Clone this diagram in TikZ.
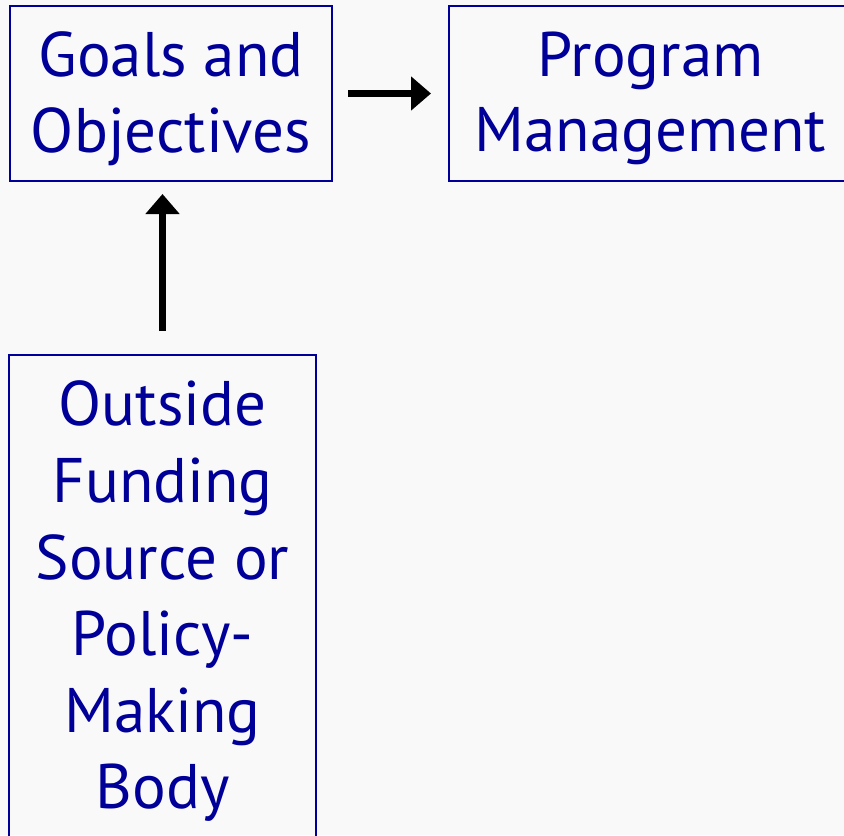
\documentclass[tikz,border=0pt]{standalone}
\usepackage{fontspec}
\setmainfont{PT Sans}
\usetikzlibrary{arrows.meta}
\definecolor{boxblue}{HTML}{000099}
\definecolor{paper}{HTML}{F9F9FA}

\begin{document}
\begin{tikzpicture}[x=0.5pt, y=-0.5pt,
    box/.style={draw=boxblue, line width=1pt, text=boxblue, align=center,
      inner sep=0pt, font=\fontsize{31.5}{37.6}\selectfont},
    arr/.style={line width=3.5pt, -{Triangle[length=10pt, width=16.5pt]}}]
    \def\W{844}
    \def\H{835}
    \fill[paper] (0,0) rectangle (\W,\H);
    \useasboundingbox (0,0) rectangle (\W,\H);
    \begin{scope}
    \clip (0,0) rectangle (\W,\H);
    \node[box, text depth=1.5pt, minimum width=161pt, minimum height=87.5pt] (goals) at (171,93.5)
      {Goals and\\Objectives};
    \node[box, text depth=1.5pt, minimum width=201.5pt, minimum height=87.5pt] (program) at (650.5,93.5)
      {Program\\Management};
    \node[box, minimum width=153.5pt, minimum height=246.5pt, font=\fontsize{31.5}{38.3}\selectfont]
      (outside) at (162.5,601.5)
      {Outside\\Funding\\Source or\\Policy-\\Making\\Body};
    \end{scope}
    \draw[arr, shorten <=11.5pt, shorten >=6pt] (outside.north) -- (outside.north |- goals.south);
    \draw[arr, shorten <=7.5pt, shorten >=8.5pt] (goals) -- (program);
\end{tikzpicture}
\end{document}
